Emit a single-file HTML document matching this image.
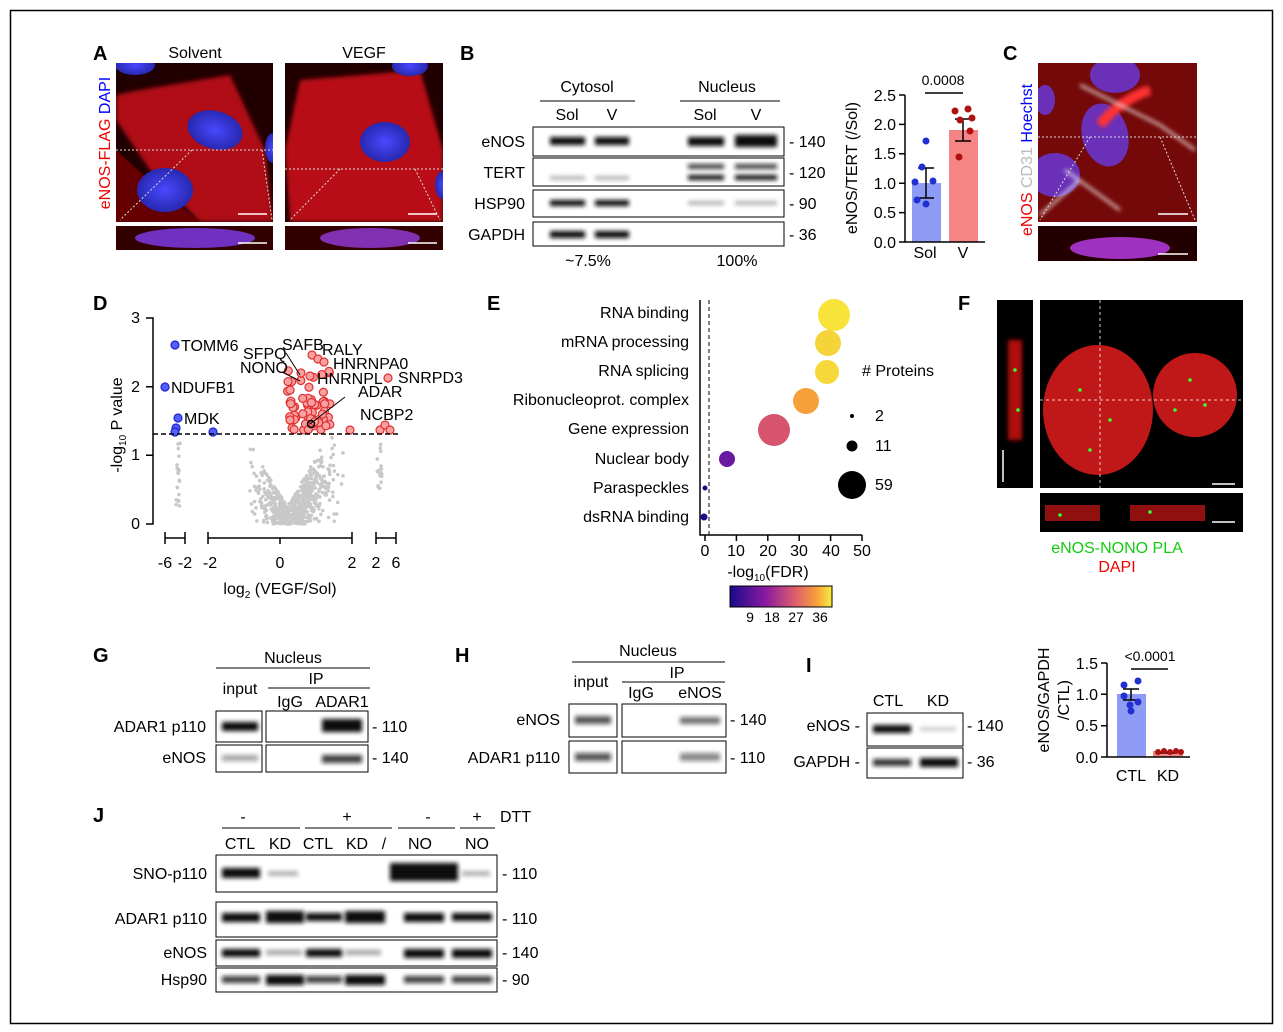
<!DOCTYPE html>
<html><head><meta charset="utf-8"><style>
body{margin:0;background:#fff}
svg{display:block;font-family:"Liberation Sans",Arial,sans-serif}
.l{font-size:20px;font-weight:bold}
.t{font-size:15px}
.m{font-size:16px}
.s{font-size:14px}
</style></head><body>
<svg id="s" width="1283" height="1032" viewBox="0 0 1283 1032" xmlns="http://www.w3.org/2000/svg">
<defs>
<filter id="b" x="-20%" y="-100%" width="140%" height="300%"><feGaussianBlur stdDeviation="2.2"/></filter>
<filter id="bb"><feGaussianBlur stdDeviation="6"/></filter>
<clipPath id="ca1"><rect x="116" y="63" width="157" height="159"/></clipPath>
<clipPath id="ca2"><rect x="285" y="63" width="158" height="159"/></clipPath>
<clipPath id="cc"><rect x="1038" y="63" width="159" height="159"/></clipPath>
<radialGradient id="blu" cx="50%" cy="50%" r="50%"><stop offset="0" stop-color="#4848ff"/><stop offset="1" stop-color="#2828b0"/></radialGradient>
<linearGradient id="cb" x1="0" x2="1"><stop offset="0" stop-color="#1a0a8a"/><stop offset="0.35" stop-color="#8a1aa0"/><stop offset="0.65" stop-color="#e0606a"/><stop offset="0.85" stop-color="#f5a03a"/><stop offset="1" stop-color="#f7ef40"/></linearGradient>
</defs>
<rect x="10.5" y="10.5" width="1262" height="1013" fill="none" stroke="#000" stroke-width="1.5"/>

<!-- A -->
<text x="93" y="60" class="l">A</text>
<text x="195" y="58" class="m" text-anchor="middle">Solvent</text>
<text x="364" y="58" class="m" text-anchor="middle">VEGF</text>
<text transform="translate(110,143) rotate(-90)" class="m" text-anchor="middle"><tspan fill="#e00">eNOS-FLAG </tspan><tspan fill="#00f">DAPI</tspan></text>
<g clip-path="url(#ca1)">
<rect x="116" y="63" width="157" height="159" fill="#200000"/>
<path d="M140 90 L230 75 L265 150 L273 222 L200 222 L150 170 L116 120 L116 95Z" fill="#b01018" filter="url(#b)"/>
<path d="M116 150 L160 190 L200 222 L116 222Z" fill="#600" />
<ellipse cx="215" cy="130" rx="28" ry="19" fill="url(#blu)" transform="rotate(15 215 130)"/>
<ellipse cx="165" cy="190" rx="28" ry="22" fill="url(#blu)"/>
<ellipse cx="135" cy="65" rx="20" ry="10" fill="url(#blu)"/>
<ellipse cx="273" cy="148" rx="8" ry="15" fill="url(#blu)"/>
</g>
<rect x="116" y="226" width="157" height="24" fill="#300"/>
<ellipse cx="195" cy="238" rx="60" ry="10" fill="#7030c0"/>
<g clip-path="url(#ca2)">
<rect x="285" y="63" width="158" height="159" fill="#200000"/>
<path d="M300 80 L420 70 L443 150 L443 222 L290 222 L285 150Z" fill="#b81018" filter="url(#b)"/>
<ellipse cx="385" cy="142" rx="25" ry="20" fill="url(#blu)"/>
<ellipse cx="410" cy="66" rx="18" ry="10" fill="url(#blu)"/>
<ellipse cx="443" cy="185" rx="8" ry="14" fill="url(#blu)"/>
</g>
<rect x="285" y="226" width="158" height="24" fill="#300"/>
<ellipse cx="370" cy="238" rx="50" ry="10" fill="#8030b0"/>
<g stroke="#ddd" stroke-dasharray="2,2" fill="none"><path d="M116 150H273M192 150L120 220M262 150L272 220M285 169H443M340 169L290 220M415 169L440 220"/></g>
<g stroke="#fff" stroke-width="1.5"><line x1="238" y1="214" x2="267" y2="214"/><line x1="408" y1="214" x2="437" y2="214"/><line x1="238" y1="243" x2="267" y2="243"/><line x1="408" y1="243" x2="437" y2="243"/></g>

<!-- B -->
<text x="460" y="60" class="l">B</text>
<text x="587" y="92" class="m" text-anchor="middle">Cytosol</text>
<text x="727" y="92" class="m" text-anchor="middle">Nucleus</text>
<line x1="540" y1="101" x2="635" y2="101" stroke="#000"/><line x1="680" y1="101" x2="780" y2="101" stroke="#000"/>
<text x="567" y="120" class="m" text-anchor="middle">Sol</text><text x="612" y="120" class="m" text-anchor="middle">V</text>
<text x="705" y="120" class="m" text-anchor="middle">Sol</text><text x="756" y="120" class="m" text-anchor="middle">V</text>
<g class="m" text-anchor="end"><text x="525" y="147">eNOS</text><text x="525" y="178">TERT</text><text x="525" y="209">HSP90</text><text x="525" y="240">GAPDH</text></g>
<g fill="none" stroke="#000"><rect x="533" y="127" width="251" height="29"/><rect x="533" y="158" width="251" height="28"/><rect x="533" y="190" width="251" height="27"/><rect x="533" y="222" width="251" height="24"/></g>
<g class="m"><text x="789" y="147">- 140</text><text x="789" y="178">- 120</text><text x="789" y="209">- 90</text><text x="789" y="240">- 36</text></g>
<g filter="url(#b)" fill="#111">
<rect x="550" y="137" width="35" height="8"/><rect x="595" y="137" width="34" height="8"/><rect x="688" y="137" width="36" height="9"/><rect x="735" y="135" width="42" height="12" />
<rect x="688" y="164" width="36" height="5" opacity=".8"/><rect x="735" y="164" width="42" height="5" opacity=".8"/><rect x="688" y="175" width="36" height="5"/><rect x="735" y="175" width="42" height="5"/>
<rect x="550" y="176" width="35" height="4" opacity=".3"/><rect x="595" y="176" width="34" height="4" opacity=".3"/>
<rect x="550" y="200" width="35" height="6"/><rect x="595" y="200" width="34" height="6"/><rect x="688" y="201" width="36" height="4" opacity=".3"/><rect x="735" y="201" width="42" height="4" opacity=".3"/>
<rect x="550" y="231" width="35" height="7"/><rect x="595" y="231" width="34" height="7"/>
</g>
<text x="588" y="266" class="m" text-anchor="middle">~7.5%</text><text x="737" y="266" class="m" text-anchor="middle">100%</text>
<text transform="translate(857,168) rotate(-90)" class="m" text-anchor="middle">eNOS/TERT (/Sol)</text>
<rect x="912" y="183" width="29" height="59" fill="#8f9cf5"/><rect x="949" y="130" width="29" height="112" fill="#f58585"/>
<g stroke="#000" stroke-width="1.5" fill="none"><path d="M905 95V242H985"/>
<path d="M899 95H905M899 124.4H905M899 153.8H905M899 183.2H905M899 212.6H905M899 242H905"/>
<path d="M926 168V198M918 168H934M918 198H934"/><path d="M963 119V141M955 119H971M955 141H971"/>
<line x1="925" y1="93" x2="963" y2="93"/></g>
<g class="m" text-anchor="end"><text x="896" y="101">2.5</text><text x="896" y="130">2.0</text><text x="896" y="159">1.5</text><text x="896" y="189">1.0</text><text x="896" y="218">0.5</text><text x="896" y="248">0.0</text></g>
<text x="943" y="85" class="s" text-anchor="middle">0.0008</text>
<text x="925" y="258" class="m" text-anchor="middle">Sol</text><text x="963" y="258" class="m" text-anchor="middle">V</text>
<g fill="#2230d0"><circle cx="926" cy="141" r="3.5"/><circle cx="922" cy="167" r="3.5"/><circle cx="915" cy="182" r="3.5"/><circle cx="933" cy="181" r="3.5"/><circle cx="917" cy="200" r="3.5"/><circle cx="926" cy="204" r="3.5"/></g>
<g fill="#b01010"><circle cx="955" cy="111" r="3.5"/><circle cx="968" cy="109" r="3.5"/><circle cx="960" cy="120" r="3.5"/><circle cx="972" cy="118" r="3.5"/><circle cx="970" cy="131" r="3.5"/><circle cx="959" cy="157" r="3.5"/></g>

<!-- C -->
<text x="1003" y="60" class="l">C</text>
<g clip-path="url(#cc)">
<rect x="1038" y="63" width="159" height="159" fill="#3a0000"/>
<rect x="1038" y="63" width="159" height="159" fill="#b01010" opacity=".5"/>
<ellipse cx="1115" cy="75" rx="25" ry="18" fill="#6a30b8"/><ellipse cx="1105" cy="135" rx="23" ry="32" fill="#6a30b8" transform="rotate(-15 1105 135)"/><ellipse cx="1055" cy="175" rx="25" ry="22" fill="#6a30b8"/><ellipse cx="1045" cy="100" rx="10" ry="15" fill="#6a30b8"/>
<path d="M1100 125 Q1120 100 1150 90" stroke="#f33" stroke-width="10" fill="none" filter="url(#b)"/>
<g stroke="#eee" stroke-width="3" fill="none" opacity=".75" filter="url(#b)"><path d="M1065 170 L1120 210"/><path d="M1080 85 L1160 125 L1195 150"/><path d="M1040 215 L1080 180"/></g>
</g>
<g stroke="#ddd" stroke-dasharray="2,2" fill="none"><path d="M1038 137H1197M1090 137L1040 220M1160 137L1195 220"/></g>
<rect x="1038" y="226" width="159" height="35" fill="#200"/><ellipse cx="1120" cy="248" rx="50" ry="11" fill="#a030c0"/>
<g stroke="#fff" stroke-width="1.5"><line x1="1158" y1="214" x2="1188" y2="214"/><line x1="1158" y1="254" x2="1188" y2="254"/></g>
<text transform="translate(1032,160) rotate(-90)" class="m" text-anchor="middle"><tspan fill="#e00">eNOS </tspan><tspan fill="#bbb">CD31 </tspan><tspan fill="#00f">Hoechst</tspan></text>

<!-- D -->
<text x="93" y="310" class="l">D</text>
<g id="dpts"></g>
<g stroke="#000" stroke-width="1.5" fill="none">
<path d="M146 318H153V524H146M146 455.3H153M146 386.7H153"/>
<path d="M165 532V544M185 532V544M165 538H185M208 532V544M352 532V544M208 538H352M280 538V544M376 532V544M396 532V544M376 538H396"/>
</g>
<line x1="153" y1="434" x2="398" y2="434" stroke="#000" stroke-width="1.5" stroke-dasharray="5,3"/>
<g class="m" text-anchor="end"><text x="140" y="323">3</text><text x="140" y="392">2</text><text x="140" y="460">1</text><text x="140" y="529">0</text></g>
<g class="m" text-anchor="middle"><text x="165" y="568">-6</text><text x="185" y="568">-2</text><text x="210" y="568">-2</text><text x="280" y="568">0</text><text x="352" y="568">2</text><text x="376" y="568">2</text><text x="396" y="568">6</text></g>
<text x="280" y="594" class="m" text-anchor="middle">log<tspan font-size="10" dy="4">2</tspan><tspan dy="-4"> (VEGF/Sol)</tspan></text>
<text transform="translate(122,425) rotate(-90)" class="m" text-anchor="middle">-log<tspan font-size="10" dy="4">10</tspan><tspan dy="-4"> P value</tspan></text>
<g class="m"><text x="181" y="351">TOMM6</text><text x="171" y="393">NDUFB1</text><text x="184" y="424">MDK</text>
<text x="282" y="350">SAFB</text><text x="322" y="355">RALY</text><text x="333" y="369">HNRNPA0</text><text x="398" y="383">SNRPD3</text>
<text x="243" y="359">SFPQ</text><text x="240" y="373">NONO</text><text x="317" y="384">HNRNPL</text><text x="358" y="397">ADAR</text><text x="360" y="420">NCBP2</text></g>
<g stroke="#000" fill="none"><path d="M286 353L300 375M282 372L300 381M310 424L345 397"/><circle cx="311" cy="424" r="3.5" stroke-width="1.5"/></g>

<!-- E -->
<text x="487" y="310" class="l">E</text>
<g class="m" text-anchor="end"><text x="689" y="318">RNA binding</text><text x="689" y="347">mRNA processing</text><text x="689" y="376">RNA splicing</text><text x="689" y="405">Ribonucleoprot. complex</text><text x="689" y="434">Gene expression</text><text x="689" y="464">Nuclear body</text><text x="689" y="493">Paraspeckles</text><text x="689" y="522">dsRNA binding</text></g>
<g stroke="#000" stroke-width="1.5" fill="none"><path d="M700 300V535H862M705 535V541M736.4 535V541M767.8 535V541M799.2 535V541M830.6 535V541M862 535V541"/></g>
<line x1="709" y1="300" x2="709" y2="535" stroke="#000" stroke-dasharray="4,3"/>
<g class="m" text-anchor="middle"><text x="705" y="556">0</text><text x="736" y="556">10</text><text x="768" y="556">20</text><text x="799" y="556">30</text><text x="831" y="556">40</text><text x="862" y="556">50</text></g>
<circle cx="834" cy="315" r="16" fill="#f7e33a"/><circle cx="828" cy="343" r="13" fill="#f5d43a"/><circle cx="827" cy="372" r="12" fill="#f7d83a"/><circle cx="806" cy="401" r="13" fill="#f5a03a"/><circle cx="774" cy="430" r="16" fill="#d6546e"/><circle cx="727" cy="459" r="8" fill="#6a1aa0"/><circle cx="705" cy="488" r="2.5" fill="#1a0a8a"/><circle cx="704" cy="517" r="3.5" fill="#1a0a8a"/>
<text x="862" y="376" class="m"># Proteins</text>
<circle cx="852" cy="416" r="2" fill="#000"/><circle cx="852" cy="446" r="5.5" fill="#000"/><circle cx="852" cy="485" r="14" fill="#000"/>
<text x="875" y="421" class="m">2</text><text x="875" y="451" class="m">11</text><text x="875" y="490" class="m">59</text>
<text x="768" y="577" class="m" text-anchor="middle">-log<tspan font-size="10" dy="4">10</tspan><tspan dy="-4">(FDR)</tspan></text>
<rect x="730" y="586" width="102" height="21" fill="url(#cb)" stroke="#000"/>
<g class="s" text-anchor="middle"><text x="750" y="622">9</text><text x="772" y="622">18</text><text x="796" y="622">27</text><text x="820" y="622">36</text></g>

<!-- F -->
<text x="958" y="310" class="l">F</text>
<rect x="997" y="300" width="36" height="188" fill="#000"/><rect x="1008" y="340" width="14" height="100" fill="#b01010" filter="url(#b)"/>
<rect x="1040" y="300" width="203" height="188" fill="#000"/>
<ellipse cx="1098" cy="410" rx="55" ry="65" fill="#c01818"/><ellipse cx="1195" cy="395" rx="42" ry="42" fill="#c01818"/>
<rect x="1040" y="493" width="203" height="39" fill="#000"/><rect x="1045" y="505" width="55" height="16" fill="#901010"/><rect x="1130" y="505" width="75" height="16" fill="#901010"/>
<g fill="#3f3"><circle cx="1080" cy="390" r="1.8"/><circle cx="1110" cy="420" r="1.8"/><circle cx="1090" cy="450" r="1.8"/><circle cx="1190" cy="380" r="1.8"/><circle cx="1205" cy="405" r="1.8"/><circle cx="1175" cy="410" r="1.8"/><circle cx="1015" cy="370" r="1.8"/><circle cx="1018" cy="410" r="1.8"/><circle cx="1060" cy="515" r="1.8"/><circle cx="1150" cy="512" r="1.8"/></g>
<line x1="1100" y1="300" x2="1100" y2="488" stroke="#fff" stroke-dasharray="3,3" stroke-width=".8"/><line x1="1040" y1="400" x2="1243" y2="400" stroke="#fff" stroke-dasharray="3,3" stroke-width=".8"/>
<g stroke="#fff" stroke-width="1.5"><line x1="1003" y1="450" x2="1003" y2="482"/><line x1="1212" y1="484" x2="1235" y2="484"/><line x1="1212" y1="522" x2="1235" y2="522"/></g>
<text x="1117" y="553" class="m" text-anchor="middle" fill="#1c1">eNOS-NONO PLA</text>
<text x="1117" y="572" class="m" text-anchor="middle" fill="#e00">DAPI</text>

<!-- G -->
<text x="93" y="662" class="l">G</text>
<text x="293" y="663" class="m" text-anchor="middle">Nucleus</text><line x1="216" y1="668" x2="370" y2="668" stroke="#000"/>
<text x="316" y="684" class="m" text-anchor="middle">IP</text><line x1="268" y1="688" x2="370" y2="688" stroke="#000"/>
<text x="240" y="694" class="m" text-anchor="middle">input</text><text x="290" y="707" class="m" text-anchor="middle">IgG</text><text x="342" y="707" class="m" text-anchor="middle">ADAR1</text>
<text x="206" y="732" class="m" text-anchor="end">ADAR1 p110</text><text x="206" y="763" class="m" text-anchor="end">eNOS</text>
<g fill="none" stroke="#000"><rect x="216" y="711" width="46" height="31"/><rect x="266" y="711" width="102" height="31"/><rect x="216" y="745" width="46" height="27"/><rect x="266" y="745" width="102" height="27"/></g>
<g filter="url(#b)" fill="#111"><rect x="222" y="722" width="36" height="9"/><rect x="322" y="719" width="40" height="13"/><rect x="222" y="755" width="36" height="6" opacity=".4"/><rect x="322" y="755" width="40" height="8" opacity=".8"/></g>
<text x="372" y="732" class="m">- 110</text><text x="372" y="763" class="m">- 140</text>

<!-- H -->
<text x="455" y="662" class="l">H</text>
<text x="648" y="656" class="m" text-anchor="middle">Nucleus</text><line x1="572" y1="662" x2="725" y2="662" stroke="#000"/>
<text x="677" y="678" class="m" text-anchor="middle">IP</text><line x1="622" y1="682" x2="725" y2="682" stroke="#000"/>
<text x="591" y="687" class="m" text-anchor="middle">input</text><text x="641" y="698" class="m" text-anchor="middle">IgG</text><text x="700" y="698" class="m" text-anchor="middle">eNOS</text>
<text x="560" y="725" class="m" text-anchor="end">eNOS</text><text x="560" y="763" class="m" text-anchor="end">ADAR1 p110</text>
<g fill="none" stroke="#000"><rect x="569" y="704" width="48" height="33"/><rect x="622" y="704" width="104" height="33"/><rect x="569" y="741" width="48" height="32"/><rect x="622" y="741" width="104" height="32"/></g>
<g filter="url(#b)" fill="#111"><rect x="575" y="716" width="36" height="8" opacity=".7"/><rect x="680" y="717" width="40" height="7" opacity=".6"/><rect x="575" y="753" width="36" height="8" opacity=".7"/><rect x="680" y="753" width="40" height="8" opacity=".5"/></g>
<text x="730" y="725" class="m">- 140</text><text x="730" y="763" class="m">- 110</text>

<!-- I -->
<text x="806" y="672" class="l">I</text>
<text x="888" y="706" class="m" text-anchor="middle">CTL</text><text x="938" y="706" class="m" text-anchor="middle">KD</text>
<text x="860" y="731" class="m" text-anchor="end">eNOS -</text><text x="860" y="767" class="m" text-anchor="end">GAPDH -</text>
<g fill="none" stroke="#000"><rect x="867" y="713" width="96" height="33"/><rect x="867" y="748" width="96" height="30"/></g>
<g filter="url(#b)" fill="#111"><rect x="873" y="725" width="38" height="8"/><rect x="920" y="727" width="36" height="4" opacity=".2"/><rect x="873" y="759" width="38" height="7" opacity=".85"/><rect x="920" y="758" width="38" height="9"/></g>
<text x="967" y="731" class="m">- 140</text><text x="967" y="767" class="m">- 36</text>
<text transform="translate(1049,700) rotate(-90)" class="m" text-anchor="middle">eNOS/GAPDH</text>
<text transform="translate(1069,700) rotate(-90)" class="m" text-anchor="middle">/CTL)</text>
<rect x="1117" y="694" width="29" height="63" fill="#8f9cf5"/><rect x="1153" y="751" width="30" height="6" fill="#f58585"/>
<g stroke="#000" stroke-width="1.5" fill="none"><path d="M1107 663V757H1190M1101 663H1107M1101 694.3H1107M1101 725.7H1107M1101 757H1107"/><path d="M1131 689V700M1123 689H1139M1123 700H1139"/><line x1="1131" y1="669" x2="1168" y2="669"/><line x1="1160" y1="753" x2="1176" y2="753"/></g>
<g class="m" text-anchor="end"><text x="1098" y="669">1.5</text><text x="1098" y="700">1.0</text><text x="1098" y="731">0.5</text><text x="1098" y="763">0.0</text></g>
<text x="1150" y="661" class="s" text-anchor="middle">&lt;0.0001</text>
<text x="1131" y="781" class="m" text-anchor="middle">CTL</text><text x="1168" y="781" class="m" text-anchor="middle">KD</text>
<g fill="#2230d0"><circle cx="1124" cy="685" r="3.5"/><circle cx="1138" cy="681" r="3.5"/><circle cx="1124" cy="696" r="3.5"/><circle cx="1130" cy="705" r="3.5"/><circle cx="1138" cy="702" r="3.5"/><circle cx="1131" cy="711" r="3.5"/></g>
<g fill="#b01010"><circle cx="1158" cy="752" r="3"/><circle cx="1164" cy="751" r="3"/><circle cx="1170" cy="752" r="3"/><circle cx="1176" cy="751" r="3"/><circle cx="1181" cy="752" r="3"/></g>

<!-- J -->
<text x="93" y="822" class="l">J</text>
<g class="m" text-anchor="middle"><text x="243" y="822">-</text><text x="347" y="822">+</text><text x="428" y="822">-</text><text x="477" y="822">+</text></g>
<text x="500" y="822" class="m">DTT</text>
<g stroke="#000"><line x1="222" y1="828" x2="300" y2="828"/><line x1="305" y1="828" x2="392" y2="828"/><line x1="398" y1="828" x2="455" y2="828"/><line x1="460" y1="828" x2="495" y2="828"/></g>
<g class="m" text-anchor="middle"><text x="240" y="849">CTL</text><text x="280" y="849">KD</text><text x="318" y="849">CTL</text><text x="357" y="849">KD</text><text x="384" y="849">/</text><text x="420" y="849">NO</text><text x="477" y="849">NO</text></g>
<g class="m" text-anchor="end"><text x="207" y="879">SNO-p110</text><text x="207" y="924">ADAR1 p110</text><text x="207" y="958">eNOS</text><text x="207" y="985">Hsp90</text></g>
<g fill="none" stroke="#000"><rect x="216" y="855" width="281" height="37"/><rect x="216" y="902" width="281" height="35"/><rect x="216" y="940" width="281" height="26"/><rect x="216" y="968" width="281" height="24"/></g>
<g filter="url(#b)" fill="#111">
<rect x="222" y="868" width="38" height="10"/><rect x="268" y="871" width="30" height="5" opacity=".3"/><rect x="390" y="863" width="68" height="18"/><rect x="462" y="871" width="28" height="5" opacity=".3"/>
<rect x="222" y="913" width="38" height="9"/><rect x="266" y="911" width="38" height="12"/><rect x="306" y="913" width="36" height="8"/><rect x="345" y="911" width="40" height="12"/><rect x="404" y="913" width="40" height="9"/><rect x="452" y="913" width="40" height="8"/>
<rect x="222" y="949" width="38" height="8"/><rect x="266" y="950" width="36" height="5" opacity=".4"/><rect x="306" y="949" width="36" height="8"/><rect x="345" y="950" width="36" height="5" opacity=".4"/><rect x="404" y="949" width="40" height="9"/><rect x="452" y="949" width="40" height="9"/>
<rect x="222" y="976" width="38" height="7" opacity=".8"/><rect x="266" y="975" width="38" height="10"/><rect x="306" y="976" width="36" height="7" opacity=".8"/><rect x="345" y="975" width="40" height="10"/><rect x="404" y="976" width="40" height="7" opacity=".8"/><rect x="452" y="976" width="40" height="7" opacity=".8"/>
</g>
<g class="m"><text x="502" y="879">- 110</text><text x="502" y="924">- 110</text><text x="502" y="958">- 140</text><text x="502" y="985">- 90</text></g>
</svg>
<script>
(function(){
var g=document.getElementById('dpts'),ns='http://www.w3.org/2000/svg',seed=7;
function r(){seed=(seed*16807)%2147483647;return seed/2147483647;}
function n(){return (r()+r()+r()+r()-2)/1.2;}
function c(x,y,rad,f,s){var e=document.createElementNS(ns,'circle');e.setAttribute('cx',x);e.setAttribute('cy',y);e.setAttribute('r',rad);e.setAttribute('fill',f);if(s){e.setAttribute('stroke',s);e.setAttribute('stroke-width','1.2');}g.appendChild(e);}
for(var i=0;i<650;i++){var dx=n()*1.0+0.4;var lim=Math.min(1.28,Math.abs(dx-0.2)*0.9+0.25);var yy=lim*Math.pow(r(),0.7);if(r()<0.4)yy=Math.abs(dx-0.2)*0.9*r();var px=280+dx*36,py=524-yy*68.7;if(px<212||px>350)continue;c(px,py,1.8,'#c8c8c8');}
for(i=0;i<20;i++){c(176+r()*4,440+r()*70,1.8,'#c8c8c8');c(377+r()*5,440+r()*50,1.8,'#c8c8c8');}
for(i=0;i<60;i++){var x=280+(0.2+r()*1.2)*36,y=430-Math.pow(r(),1.6)*60;c(x,y,4,'#f9a0a0','#e03030');}
[[312,355],[318,359],[324,362],[301,373],[310,376],[388,378],[290,420],[350,430],[380,430],[385,425],[390,430]].forEach(function(p){c(p[0],p[1],4,'#f9a0a0','#e03030');});
[[175,345],[165,387],[178,418],[176,428],[175,432],[213,432]].forEach(function(p){c(p[0],p[1],4,'#5060f8','#2020d0');});
})();
</script>
</body></html>
